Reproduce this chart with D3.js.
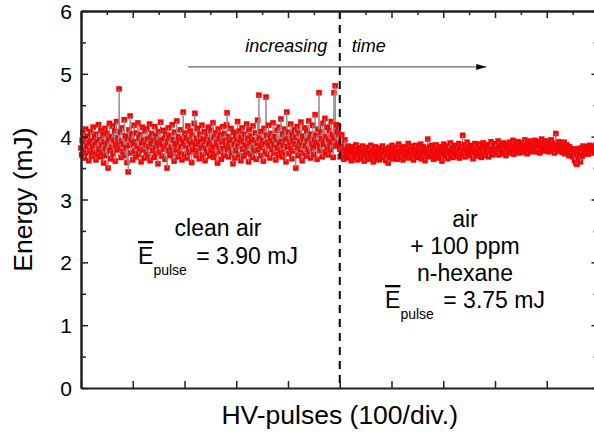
<!DOCTYPE html>
<html>
<head>
<meta charset="utf-8">
<script src="https://cdn.jsdelivr.net/npm/d3@7"></script>
<style>
  body { margin: 0; background: #fff; }
  svg { display: block; font-family: Arial, "Liberation Sans", sans-serif; }
</style>
</head>
<body>
<script>
// pulse energies (mJ), one value every pulseStep pulses
const pulseStep = 1.25
const cleanAir = [
  3.82, 3.71, 3.94, 4.06, 3.88, 3.66, 3.79, 4.12, 3.97, 3.74, 3.85, 4.01, 3.62, 3.90, 3.77, 4.08, 3.93, 3.69, 3.84, 4.15,
  3.76, 3.99, 3.87, 3.63, 4.04, 3.91, 3.72, 4.19, 3.80, 3.95, 3.68, 4.10, 3.86, 3.75, 4.02, 3.58, 3.92, 4.13, 3.81, 3.70,
  4.05, 3.89, 3.50, 3.96, 4.21, 3.78, 3.65, 4.00, 3.83, 4.17, 3.73, 3.94, 4.09, 3.61, 3.87, 4.24, 3.79, 3.98, 3.90, 4.76,
  3.84, 4.07, 3.67, 3.93, 4.14, 3.76, 3.88, 4.27, 3.70, 4.01, 3.82, 3.59, 3.97, 3.44, 4.11, 3.86, 4.33, 3.74, 3.95, 4.04,
  3.63, 3.89, 4.18, 3.77, 3.92, 3.68, 4.06, 3.85, 4.22, 3.72, 3.98, 3.81, 4.03, 3.60, 3.90, 4.15, 3.79, 3.94, 3.66, 4.09,
  3.87, 3.75, 4.12, 3.96, 3.71, 3.84, 4.20, 3.62, 3.99, 3.89, 4.05, 3.78, 3.93, 3.67, 4.16, 3.82, 3.73, 4.01, 3.91, 3.57,
  4.08, 3.86, 3.76, 4.23, 3.94, 3.69, 3.88, 4.10, 3.80, 3.97, 3.64, 4.04, 3.85, 3.50, 3.92, 4.14, 3.78, 3.98, 3.70, 4.02,
  3.83, 4.19, 3.74, 3.95, 3.61, 4.07, 3.89, 3.79, 4.25, 3.87, 3.68, 4.00, 3.93, 3.76, 4.11, 3.84, 3.63, 3.96, 4.39, 3.90,
  3.72, 4.06, 3.86, 3.98, 3.66, 4.17, 3.81, 3.94, 3.75, 4.09, 3.88, 3.59, 4.02, 3.79, 3.91, 4.21, 4.37, 3.84, 3.70, 3.97,
  4.13, 3.77, 3.89, 3.65, 4.04, 3.92, 3.82, 4.18, 3.71, 3.96, 3.86, 4.08, 3.62, 3.93, 3.80, 4.01, 3.74, 4.15, 3.88, 3.69,
  3.95, 4.10, 3.78, 3.87, 4.22, 3.67, 3.99, 3.83, 3.73, 4.06, 3.90, 3.58, 4.12, 3.85, 3.97, 3.76, 4.03, 3.64, 3.92, 4.16,
  3.81, 3.70, 4.05, 3.94, 3.86, 4.19, 4.38, 3.79, 3.68, 4.00, 3.91, 3.83, 4.13, 3.74, 3.95, 3.57, 4.07, 3.88, 3.66, 4.02,
  3.78, 3.96, 4.24, 3.85, 3.71, 4.09, 3.90, 3.62, 3.99, 4.14, 3.80, 3.93, 3.69, 4.04, 3.87, 3.75, 4.20, 3.84, 3.97, 3.60,
  4.11, 3.89, 3.73, 4.01, 3.92, 3.67, 4.17, 3.82, 3.95, 3.77, 4.06, 3.64, 3.90, 4.26, 3.79, 4.66, 3.98, 3.86, 3.70, 4.08,
  3.83, 3.94, 3.61, 4.13, 3.88, 3.76, 4.63, 4.02, 3.72, 3.91, 4.18, 3.85, 3.66, 3.97, 4.05, 3.80, 3.93, 4.22, 3.74, 3.87,
  4.00, 3.63, 3.96, 4.10, 3.82, 3.71, 4.15, 3.89, 3.78, 4.28, 3.92, 3.68, 4.04, 3.86, 3.75, 4.12, 3.95, 3.60, 4.39, 3.84,
  3.97, 4.07, 3.73, 3.90, 4.20, 3.81, 3.65, 4.03, 3.94, 3.77, 4.11, 3.88, 3.50, 3.99, 4.16, 3.83, 3.70, 4.06, 3.92, 3.79,
  4.23, 3.87, 3.62, 4.01, 3.96, 3.74, 4.14, 3.85, 3.69, 4.09, 3.93, 3.80, 4.25, 3.76, 3.98, 3.66, 4.04, 3.89, 4.18, 3.82,
  3.72, 3.95, 4.35, 3.86, 4.02, 3.64, 3.91, 4.12, 4.70, 3.84, 3.78, 4.07, 3.97, 3.68, 4.21, 3.88, 3.93, 4.29, 3.75, 4.00,
  3.83, 4.15, 3.71, 3.96, 4.10, 3.87, 3.79, 4.24, 3.92, 4.03, 3.67, 4.70, 3.98, 4.81, 3.85, 4.19, 4.08, 3.90, 4.16, 4.04
]
const hexane = [
  3.80, 3.68, 3.88, 4.03, 3.72, 3.77, 3.64, 3.83, 3.95, 3.70, 3.79, 3.74, 3.66, 3.85, 3.76, 3.69, 3.81, 3.73, 3.62, 3.78,
  3.75, 3.84, 3.67, 3.79, 3.71, 3.87, 3.74, 3.63, 3.80, 3.76, 3.69, 3.82, 3.73, 3.65, 3.78, 3.85, 3.70, 3.75, 3.61, 3.79,
  3.72, 3.83, 3.68, 3.76, 3.64, 3.81, 3.74, 3.70, 3.86, 3.67, 3.77, 3.73, 3.60, 3.79, 3.71, 3.84, 3.66, 3.75, 3.69, 3.80,
  3.74, 3.63, 3.82, 3.70, 3.77, 3.66, 3.85, 3.72, 3.68, 3.79, 3.75, 3.62, 3.81, 3.71, 3.76, 3.58, 3.73, 3.83, 3.67, 3.78,
  3.70, 3.86, 3.74, 3.65, 3.80, 3.76, 3.69, 3.83, 3.72, 3.64, 3.78, 3.88, 3.71, 3.75, 3.67, 3.82, 3.73, 3.79, 3.63, 3.77,
  3.84, 3.70, 3.76, 3.68, 3.81, 3.74, 3.89, 3.66, 3.78, 3.72, 3.85, 3.69, 3.75, 3.80, 3.63, 3.77, 3.73, 3.86, 3.70, 3.79,
  3.74, 3.67, 3.82, 3.76, 3.71, 3.88, 3.65, 3.79, 3.73, 3.84, 3.69, 3.77, 3.62, 3.81, 3.75, 3.70, 3.96, 3.78, 3.72, 3.83,
  3.68, 3.76, 3.86, 3.71, 3.79, 3.64, 3.82, 3.74, 3.69, 3.87, 3.77, 3.72, 3.80, 3.66, 3.75, 3.84, 3.70, 3.78, 3.61, 3.81,
  3.73, 3.88, 3.76, 3.69, 3.83, 3.71, 3.79, 3.65, 3.85, 3.74, 3.78, 3.90, 3.70, 3.76, 3.82, 3.67, 3.80, 3.73, 3.86, 3.75,
  3.69, 3.83, 3.77, 3.72, 3.89, 3.66, 3.80, 3.75, 3.84, 3.71, 4.02, 3.78, 3.73, 3.87, 3.68, 3.81, 3.76, 3.91, 3.74, 3.79,
  3.83, 3.70, 3.77, 3.86, 3.72, 3.80, 3.65, 3.84, 3.76, 3.89, 3.74, 3.79, 3.69, 3.85, 3.78, 3.73, 3.88, 3.75, 3.82, 3.67,
  3.80, 3.76, 3.90, 3.73, 3.84, 3.70, 3.79, 3.87, 3.75, 3.82, 3.68, 3.86, 3.77, 3.81, 3.92, 3.74, 3.79, 3.71, 3.85, 3.78,
  3.83, 3.89, 3.74, 3.80, 3.76, 3.93, 3.71, 3.85, 3.79, 3.82, 3.88, 3.73, 3.81, 3.77, 3.90, 3.75, 3.86, 3.70, 3.83, 3.79,
  3.87, 3.76, 3.82, 3.91, 3.74, 3.85, 3.80, 3.78, 3.94, 3.72, 3.84, 3.81, 3.89, 3.76, 3.83, 3.79, 3.92, 3.74, 3.86, 3.81,
  3.78, 3.90, 3.84, 3.75, 3.88, 3.82, 3.95, 3.77, 3.86, 3.80, 3.73, 3.89, 3.83, 3.79, 3.93, 3.76, 3.87, 3.82, 3.91, 3.78,
  3.85, 3.80, 3.94, 3.76, 3.89, 3.83, 3.78, 3.92, 3.86, 3.74, 3.88, 3.81, 3.96, 3.79, 3.85, 3.90, 3.77, 3.84, 3.82, 3.93,
  3.79, 3.87, 3.83, 3.76, 3.91, 3.85, 3.80, 3.95, 3.78, 3.88, 3.82, 3.86, 3.74, 3.90, 4.05, 3.81, 3.87, 3.79, 3.84, 3.92,
  3.77, 3.86, 3.82, 3.89, 3.75, 3.84, 3.80, 3.91, 3.73, 3.85, 3.79, 3.87, 3.76, 3.82, 3.70, 3.84, 3.78, 3.74, 3.81, 3.69,
  3.80, 3.68, 3.76, 3.62, 3.79, 3.58, 3.72, 3.56, 3.81, 3.64, 3.70, 3.77, 3.60, 3.74, 3.82, 3.69, 3.85, 3.73, 3.79, 3.83,
  3.75, 3.81, 3.77, 3.84, 3.72, 3.80, 3.86, 3.76, 3.82, 3.79, 3.74, 3.85, 3.78, 3.83, 3.80, 3.76, 3.87, 3.81, 3.78, 3.84
]
const switchPulse = 500
const xDomain = [0, 1000]
const yDomain = [0, 6]
const yTicks = [0, 1, 2, 3, 4, 5, 6]

const width = 594
const height = 433

const svg = d3.select('body').append('svg')
  .attr('width', width)
  .attr('height', height)

const x = d3.scaleLinear().domain(xDomain).range([81, 598.5])
const y = d3.scaleLinear().domain(yDomain).range([388, 11])

// one series: clean air first, then the n-hexane run after the switch
const points = cleanAir.map((v, i) => ({ p: i * pulseStep, e: v }))
  .concat(hexane.map((v, i) => ({ p: switchPulse + i * pulseStep, e: v })))

/* ------- DATA (segment then symbol, point by point) ------- */
const marks = svg.append('g').attr('class', 'marks')
const pt = marks.selectAll('g.pt')
  .data(points)
  .enter()
  .append('g')
  .attr('class', 'pt')

pt.filter((d, i) => i > 0)
  .append('line')
  .attr('x1', (d, i) => x(points[i].p))
  .attr('y1', (d, i) => y(points[i].e))
  .attr('x2', d => x(d.p))
  .attr('y2', d => y(d.e))
  .attr('stroke', '#a08c8c')
  .attr('stroke-width', 1)

pt.append('rect')
  .attr('x', d => x(d.p) - 2.6)
  .attr('y', d => y(d.e) - 2.6)
  .attr('width', 5.2)
  .attr('height', 5.2)
  .attr('fill', '#ff0000')
  .attr('stroke', '#e01010')
  .attr('stroke-width', 0.4)

/* ------- SWITCH LINE ------- */
svg.append('line')
  .attr('x1', x(switchPulse)).attr('x2', x(switchPulse))
  .attr('y1', y(6)).attr('y2', y(0))
  .attr('stroke', '#000')
  .attr('stroke-width', 2)
  .attr('stroke-dasharray', '8,6')

/* ------- AXES ------- */
const majorX = d3.range(0, 1001, 100)
const minorX = d3.range(50, 1000, 100)
const minorY = d3.range(0.5, 6, 1)

function styleAxis (g) {
  g.select('.domain').attr('stroke', '#222').attr('stroke-width', 2)
  g.selectAll('.tick line').attr('stroke', '#222').attr('stroke-width', 1.5)
  g.selectAll('.tick text')
    .attr('fill', '#000')
    .style('font-family', 'Arial, "Liberation Sans", sans-serif')
    .style('font-size', '21px')
}

svg.append('g')
  .attr('transform', `translate(0,${y(0)})`)
  .call(d3.axisBottom(x).tickValues(majorX).tickSize(-7).tickSizeOuter(0).tickFormat(''))
  .call(styleAxis)

svg.append('g')
  .attr('transform', `translate(0,${y(6)})`)
  .call(d3.axisTop(x).tickValues(majorX).tickSize(-7).tickSizeOuter(0).tickFormat(''))
  .call(styleAxis)
svg.append('g')
  .attr('transform', `translate(0,${y(6)})`)
  .call(d3.axisTop(x).tickValues(minorX).tickSize(-4).tickSizeOuter(0).tickFormat(''))
  .call(styleAxis)

svg.append('g')
  .attr('transform', `translate(${x(0)},0)`)
  .call(d3.axisLeft(y).tickValues(yTicks).tickSize(-7).tickPadding(9).tickSizeOuter(0).tickFormat(d3.format('d')))
  .call(styleAxis)
  .call(g => g.selectAll('.tick text').attr('dy', '0.36em'))
svg.append('g')
  .attr('transform', `translate(${x(0)},0)`)
  .call(d3.axisLeft(y).tickValues(minorY).tickSize(-5).tickSizeOuter(0).tickFormat(''))
  .call(styleAxis)

svg.append('g')
  .attr('transform', `translate(${x(1000)},0)`)
  .call(d3.axisRight(y).tickValues(yTicks).tickSize(-7).tickSizeOuter(0).tickFormat(''))
  .call(styleAxis)
svg.append('g')
  .attr('transform', `translate(${x(1000)},0)`)
  .call(d3.axisRight(y).tickValues(minorY).tickSize(-5).tickSizeOuter(0).tickFormat(''))
  .call(styleAxis)

/* ------- AXIS TITLES ------- */
svg.append('text')
  .attr('x', (x(0) + x(1000)) / 2)
  .attr('y', 424)
  .attr('text-anchor', 'middle')
  .style('font-size', '26.5px')
  .text('HV-pulses (100/div.)')

svg.append('text')
  .attr('transform', `translate(32,${(y(0) + y(6)) / 2}) rotate(-90)`)
  .attr('text-anchor', 'middle')
  .style('font-size', '26.5px')
  .text('Energy (mJ)')

/* ------- ANNOTATIONS ------- */
svg.append('defs').append('marker')
  .attr('id', 'arrow')
  .attr('viewBox', '0 0 10 6')
  .attr('refX', 10).attr('refY', 3)
  .attr('markerWidth', 10).attr('markerHeight', 6)
  .attr('markerUnits', 'userSpaceOnUse')
  .attr('orient', 'auto')
  .append('path')
  .attr('d', 'M0,0 L10,3 L0,6 Z')
  .attr('fill', '#111')

svg.append('line')
  .attr('x1', x(207)).attr('x2', x(783))
  .attr('y1', y(5.11)).attr('y2', y(5.11))
  .attr('stroke', '#444')
  .attr('stroke-width', 1)
  .attr('marker-end', 'url(#arrow)')

svg.append('text')
  .attr('x', x(476)).attr('y', y(5.35))
  .attr('text-anchor', 'end')
  .style('font-size', '18px').style('font-style', 'italic')
  .text('increasing')
svg.append('text')
  .attr('x', x(523)).attr('y', y(5.35))
  .attr('text-anchor', 'start')
  .style('font-size', '18px').style('font-style', 'italic')
  .text('time')

function meanLabel (g, cx, baseline, value) {
  const t = g.append('text')
    .attr('x', cx).attr('y', baseline)
    .attr('text-anchor', 'middle')
    .style('font-size', '23px')
  t.append('tspan').style('text-decoration', 'overline').text('E')
  t.append('tspan').attr('dy', 11).style('font-size', '14px').text('pulse')
  t.append('tspan').attr('dy', -11).attr('dx', 3).text(' = ' + value + ' mJ')
}

const notes = svg.append('g').attr('class', 'notes')
notes.append('text')
  .attr('x', 218).attr('y', 236)
  .attr('text-anchor', 'middle')
  .style('font-size', '23px')
  .text('clean air')
meanLabel(notes, 218, 264, '3.90')

const hexLines = ['air', '+ 100 ppm', 'n-hexane']
notes.selectAll('text.hx')
  .data(hexLines)
  .enter()
  .append('text')
  .attr('class', 'hx')
  .attr('x', 465)
  .attr('y', (d, i) => 227 + i * 27)
  .attr('text-anchor', 'middle')
  .style('font-size', '23px')
  .text(d => d)
meanLabel(notes, 465, 308, '3.75')
</script>
</body>
</html>
